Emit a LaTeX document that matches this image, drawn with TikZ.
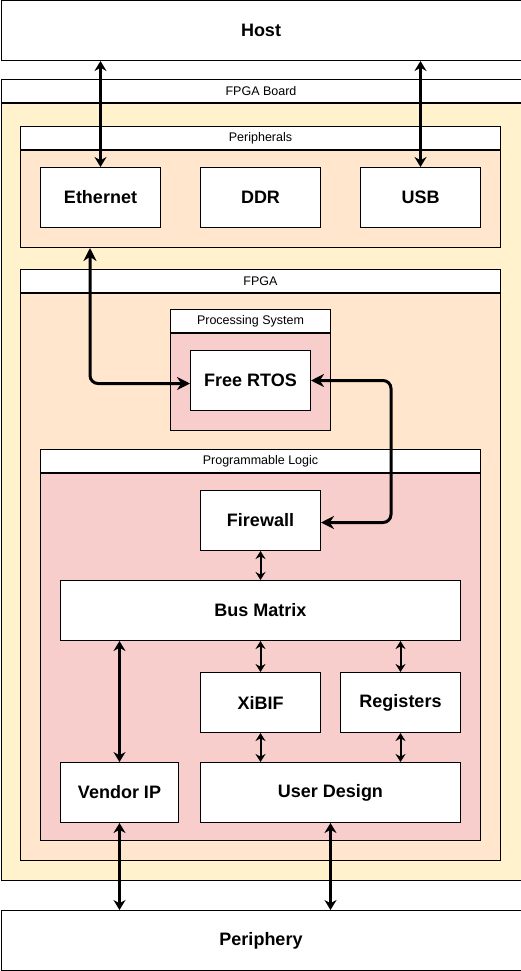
\documentclass[tikz,border=0pt]{standalone}
\usepackage{fontspec}
\setmainfont{Liberation Sans}
\usetikzlibrary{arrows.meta}

\definecolor{boardfill}{HTML}{FFF2CC}
\definecolor{fpgafill}{HTML}{FFE6CC}
\definecolor{logicfill}{HTML}{F8CECC}

\begin{document}
\begin{tikzpicture}[x=1pt,y=-1pt,line width=1pt]
\tikzstyle{block}=[draw=black,fill=white,inner sep=0pt,minimum width=120pt,minimum height=60pt,font=\fontsize{18}{21}\selectfont\bfseries]
\tikzstyle{panel}=[draw=black,inner sep=0pt,anchor=north west]
\tikzstyle{header}=[draw=black,fill=white,inner sep=0pt,anchor=south west,minimum height=23pt,font=\fontsize{12.5}{15}\selectfont]
\tikzstyle{link}=[line width=2.2pt,{Stealth[length=10pt,width=12pt]}-{Stealth[length=10pt,width=12pt]}]
\tikzstyle{short link}=[line width=2pt,{Stealth[length=8pt,width=10pt]}-{Stealth[length=8pt,width=10pt]}]
\tikzstyle{ctrl link}=[line width=3pt,rounded corners=8pt,{Stealth[length=13pt,width=13pt]}-{Stealth[length=13pt,width=13pt]}]

\useasboundingbox (0,0) rectangle (521,971);

% Host and periphery
\node[block,anchor=north west,minimum width=520pt,minimum height=59.5pt] (host) at (0.5,0.5) {Host};
\node[block,anchor=north west,minimum width=520pt,minimum height=60pt] (periphery) at (0.5,910) {Periphery};

% Board and its containers
\node[panel,fill=boardfill,minimum width=520pt,minimum height=777pt] (board) at (0.5,103) {};
\node[header,minimum width=520pt] (board-head) at (board.north west) {FPGA Board};

\node[panel,fill=fpgafill,minimum width=480pt,minimum height=97pt] (periph) at (20,150) {};
\node[header,minimum width=480pt] (periph-head) at (periph.north west) {Peripherals};

\node[panel,fill=fpgafill,minimum width=480pt,minimum height=567pt] (fpga) at (20,293) {};
\node[header,minimum width=480pt] (fpga-head) at (fpga.north west) {FPGA};

\node[panel,fill=logicfill,minimum width=160pt,minimum height=97pt] (ps) at (170,333) {};
\node[header,minimum width=160pt] (ps-head) at (ps.north west) {Processing System};

\node[panel,fill=logicfill,minimum width=440pt,minimum height=367pt] (pl) at (40,473) {};
\node[header,minimum width=440pt] (pl-head) at (pl.north west) {Programmable Logic};

% Peripheral blocks
\foreach \name/\label/\x in {ethernet/Ethernet/40, ddr/DDR/200, usb/USB/360}
\node[block,anchor=north west] (\name) at (\x,167) {\label};

% Processing system and logic blocks
\node[block,anchor=north west] (rtos) at (190,350) {Free RTOS};
\node[block,anchor=north west] (firewall) at (200,490) {Firewall};
\node[block,anchor=north west,minimum width=400pt] (busmatrix) at (60,580) {Bus Matrix};
\node[block,anchor=north west] (xibif) at (200,672) {XiBIF};
\node[block,anchor=north west] (registers) at (340,672) {Registers};
\node[block,anchor=north west,minimum width=118pt] (vendor) at (60,762) {Vendor IP};
\node[block,anchor=north west,minimum width=260pt] (userdesign) at (200,762) {User Design};

% Host links
\draw[link] (host.south -| ethernet.north) -- (ethernet.north);
\draw[link] (host.south -| usb.north) -- (usb.north);

% Control links through the processor
\draw[ctrl link] ([xshift=70pt]periph.south west) |- ([yshift=-3pt]rtos.west);
\draw[ctrl link] (rtos.east) -- ++(80,0) |- ([yshift=-2pt]firewall.east);

% Bus links
\draw[short link] (firewall.south) -- (firewall.south |- busmatrix.north);
\draw[link] (vendor.north |- busmatrix.south) -- (vendor.north);
\foreach \dest in {xibif,registers}
\draw[short link] (\dest.north |- busmatrix.south) -- (\dest.north);
\foreach \source in {xibif,registers}
\draw[short link] (\source.south) -- (\source.south |- userdesign.north);

% Periphery links
\foreach \source in {vendor,userdesign}
\draw[link] (\source.south) -- (\source.south |- periphery.north);

\end{tikzpicture}
\end{document}
